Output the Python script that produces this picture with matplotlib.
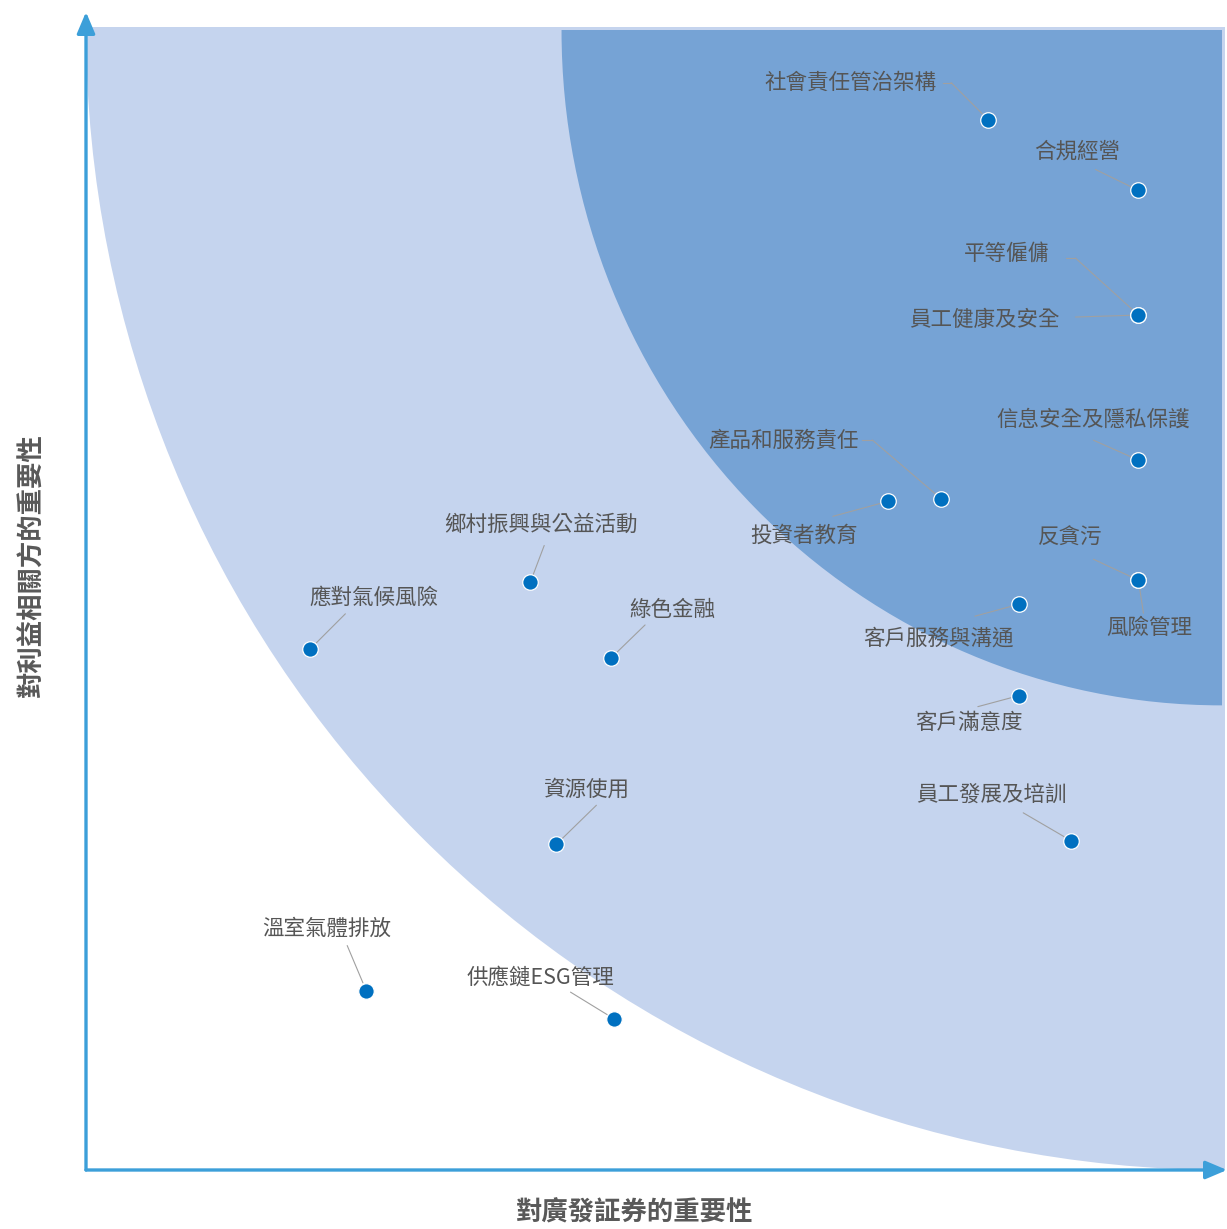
import matplotlib.pyplot as plt
from matplotlib.patches import Ellipse, Rectangle
from matplotlib.lines import Line2D

plt.rcParams['font.family'] = ['Noto Sans CJK TC', 'DejaVu Sans']

# 議題與座標 (x: 對廣發証券的重要性, y: 對利益相關方的重要性)
topics = [
    "社會責任管治架構", "合規經營", "平等僱傭", "員工健康及安全", "信息安全及隱私保護",
    "產品和服務責任", "投資者教育", "反貪污", "風險管理", "客戶服務與溝通",
    "客戶滿意度", "員工發展及培訓", "鄉村振興與公益活動", "應對氣候風險", "綠色金融",
    "資源使用", "溫室氣體排放", "供應鏈ESG管理",
]
x_vals = [79.2, 92.4, 92.4, 92.4, 92.4, 75.1, 70.4, 92.4, 92.4, 81.9,
          81.9, 86.5, 39.0, 19.7, 46.1, 41.3, 24.6, 46.4]
y_vals = [91.9, 85.7, 74.8, 74.8, 62.1, 58.7, 58.5, 51.6, 51.6, 49.5,
          41.5, 28.8, 51.4, 45.6, 44.8, 28.5, 15.7, 13.2]

# 標籤位置 (相對於圓點的像素偏移, 向下為正)
label_offsets = [(-138, -37), (-61, -39), (-132, -61), (-154, 5), (-45, -41),
                 (-158, -58), (-84, 34), (-68, -42), (11, 48), (-80, 34),
                 (-50, 27), (-80, -46), (11, -58), (64, -51), (61, -48),
                 (31, -55), (-39, -62), (-74, -41)]
# 引線起點 (相對於圓點的像素偏移)
line_starts = [(-37, -37), (-43, -21), (-63, -57), (-63, 2), (-45, -20),
               (-69, -59), (-55, 15), (-45, -21), (5, 33), (-44, 12),
               (-41, 11), (-48, -28), (14, -37), (35, -35), (34, -33),
               (40, -39), (-19, -45), (-44, -27)]
# 部分引線在標籤旁有一小段水平線
kinks = [8, 0, 9, 0, 0, 10, 0, 0, 0, 0, 0, 0, 0, 0, 0, 0, 0, 0]

fig = plt.figure(figsize=(12.27, 12.29), dpi=100)
W, H = 1227, 1229
x0, y_bot = 86, 1170
sx, sy = 1139 / 100, 1143 / 100
ax = fig.add_axes([x0 / W, (H - y_bot) / H, (1227 - x0) / W, (y_bot - 12) / H])
ax.set_xlim(0, (1227 - x0) / sx)
ax.set_ylim(0, (y_bot - 12) / sy)
ax.axis('off')

# 背景區域
clip_light = Rectangle((0, 0), 100, 100, transform=ax.transData)
light = Ellipse((100, 100), 200, 200, facecolor='#c5d4ee', edgecolor='none', zorder=1)
ax.add_patch(light)
light.set_clip_path(clip_light)

clip_dark = Rectangle((0, 0), 99.7, 99.7, transform=ax.transData)
dark = Ellipse((99.7, 99.7), 115.9, 118.1, facecolor='#76a3d5', edgecolor='none', zorder=2)
ax.add_patch(dark)
dark.set_clip_path(clip_dark)

# 座標軸箭頭
axis_color = '#3c9fd9'
arrow = dict(arrowstyle='-|>,head_length=1.3,head_width=0.55', color=axis_color,
             lw=2.4, shrinkA=0, shrinkB=0)
ax.annotate('', xy=(0, 1), xytext=(0, 0), xycoords='axes fraction',
            arrowprops=arrow, annotation_clip=False, zorder=5)
ax.annotate('', xy=(1, 0), xytext=(0, 0), xycoords='axes fraction',
            arrowprops=arrow, annotation_clip=False, zorder=5)

# 圓點
ax.scatter(x_vals, y_vals, s=125, color='#0070c0', edgecolors='white',
           linewidths=0.9, zorder=6)

for name, x, y, (dx, dy), (lx, ly), k in zip(topics, x_vals, y_vals,
                                               label_offsets, line_starts, kinks):
    ax.annotate('', xy=(x, y), xytext=(lx, -ly), textcoords='offset pixels',
                arrowprops=dict(arrowstyle='-', color='#a0a0a0', lw=0.8,
                                shrinkA=0, shrinkB=6), zorder=4)
    if k:
        px, py = ax.transData.transform((x, y))
        ax.add_line(Line2D([px + lx - k, px + lx], [py - ly, py - ly], transform=None,
                           color='#a0a0a0', lw=0.8, zorder=4))
    ax.annotate(name, xy=(x, y), xytext=(dx, -dy), textcoords='offset pixels',
                ha='center', va='center', fontsize=15.5, color='#555555', zorder=7)

fig.text(635 / W, 1 - 1213 / H, '對廣發証券的重要性', ha='center', va='center',
         fontsize=19, fontweight='bold', color='#595959')
fig.text(32 / W, 1 - 565 / H, '對利益相關方的重要性', ha='center', va='center',
         rotation=90, fontsize=19, fontweight='bold', color='#595959')

fig.savefig('out.png', dpi=100)
